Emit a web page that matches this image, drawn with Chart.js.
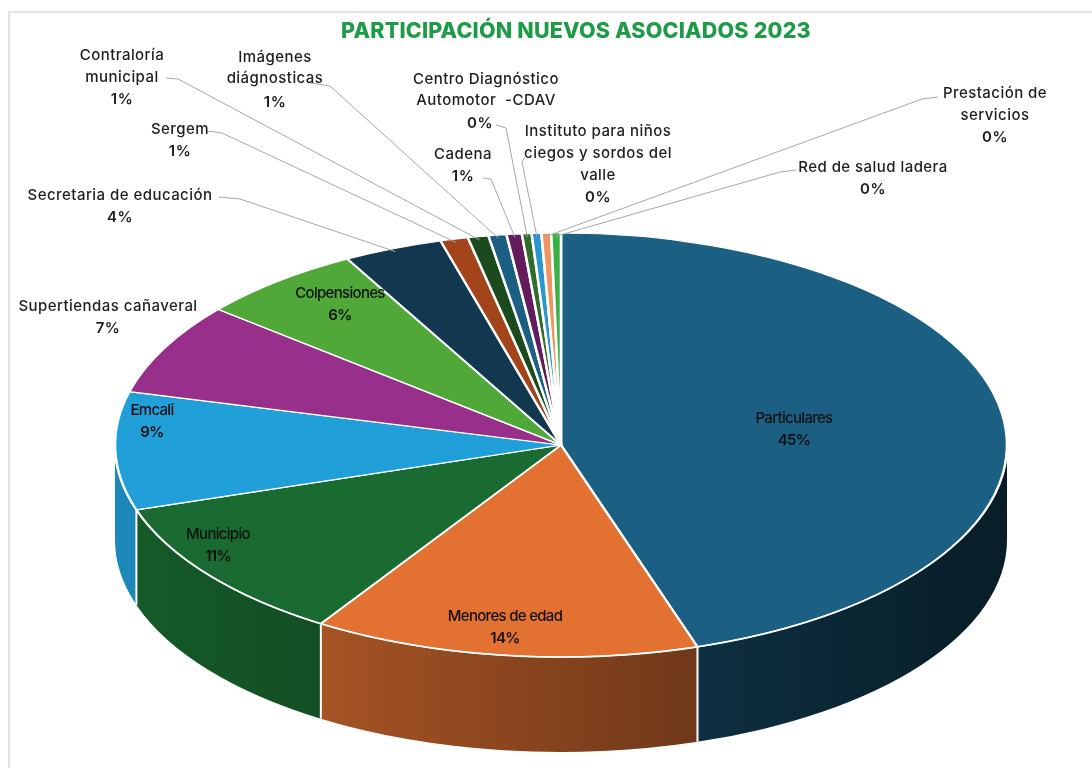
<!DOCTYPE html>
<html>
<head>
<meta charset="utf-8">
<script src="https://cdn.jsdelivr.net/npm/chart.js@4/dist/chart.umd.min.js"></script>
<style>
  html, body { margin: 0; padding: 0; background: #fff; overflow: hidden; }
  #frame { position: absolute; left: 8px; top: 11px; width: 1100px; height: 780px;
           border-left: 2px solid #e2e2e2; border-top: 2px solid #e2e2e2; }
  canvas { position: absolute; left: 0; top: 0; }
</style>
</head>
<body>
<div id="frame"></div>
<canvas id="pie" width="1092" height="768"></canvas>
<script>
// data (percent of new members)
const categories = [
  'Particulares', 'Menores de edad', 'Municipio', 'Emcali', 'Supertiendas cañaveral',
  'Colpensiones', 'Secretaria de educación', 'Sergem', 'Contraloría municipal',
  'Imágenes diágnosticas', 'Cadena', 'Centro Diagnóstico Automotor -CDAV',
  'Instituto para niños ciegos y sordos del valle', 'Prestación de servicios',
  'Red de salud ladera'
];
const shares = [45.05, 14.0, 11.0, 9.0, 7.0, 6.0, 3.6, 1.0, 0.75, 0.65, 0.55, 0.35, 0.35, 0.35, 0.35];

const sliceColors = [
  '#1b5f82', '#e37232', '#196b31', '#219fd9', '#972f8b', '#4fa838', '#12384f',
  '#a3441b', '#1b4a1f', '#1b5f82', '#621c5c', '#2f6d2a', '#2a95cf', '#ee9562', '#3bb044'
];

// projected ellipse of the pie top and its depth
const CX = 561, CY = 445, RX = 446, RY = 212, DEPTH = 95;

// label layout: text lines, center x, first line y, line height, optional leader
const labelLayout = [
  { lines: ['Particulares'], x: 794, y: 418, lh: 22, inside: true },
  { lines: ['Menores de edad'], x: 505, y: 616, lh: 22, inside: true },
  { lines: ['Municipio'], x: 218, y: 534, lh: 22, inside: true },
  { lines: ['Emcali'], x: 152, y: 410, lh: 22, inside: true },
  { lines: ['Supertiendas cañaveral'], x: 108, y: 306, lh: 22 },
  { lines: ['Colpensiones'], x: 340, y: 293, lh: 22, inside: true },
  { lines: ['Secretaria de educación'], x: 120, y: 195, lh: 22, lead: [[219, 197], [240, 199]] },
  { lines: ['Sergem'], x: 180, y: 129, lh: 22, lead: [[207, 131], [222, 133]] },
  { lines: ['Contraloría', 'municipal'], x: 122, y: 55, lh: 22, lead: [[166, 78], [178, 79]] },
  { lines: ['Imágenes', 'diágnosticas'], x: 275, y: 57, lh: 21, pctGap: 3, lead: [[310, 83], [330, 86]] },
  { lines: ['Cadena'], x: 463, y: 154, lh: 22, lead: [[483, 178], [491, 179]] },
  { lines: ['Centro Diagnóstico', 'Automotor  -CDAV'], x: 486, y: 79, lh: 21, pctGap: 2, pctX: 480, lead: [[496, 125], [506, 128]] },
  { lines: ['Instituto para niños', 'ciegos y sordos del', 'valle'], x: 598, y: 131, lh: 22, lead: [[525, 157], [522, 162]] },
  { lines: ['Prestación de', 'servicios'], x: 995, y: 93, lh: 22, lead: [[938, 97], [922, 99]] },
  { lines: ['Red de salud ladera'], x: 873, y: 167, lh: 22, lead: [[796, 170], [780, 172]] }
];

function shade(hex, f) {
  const n = parseInt(hex.slice(1), 16);
  const r = Math.round(((n >> 16) & 255) * f);
  const g = Math.round(((n >> 8) & 255) * f);
  const b = Math.round((n & 255) * f);
  return `rgb(${r},${g},${b})`;
}

function rimPoint(angle, k = 1) {
  return [CX + RX * k * Math.cos(angle), CY + RY * k * Math.sin(angle)];
}

function drawSides(ctx, arcs) {
  arcs.forEach((arc, i) => {
    const lo = Math.max(arc.startAngle, 0);
    const hi = Math.min(arc.endAngle, Math.PI);
    if (hi <= lo) return;
    const grad = ctx.createLinearGradient(CX - RX, 0, CX + RX, 0);
    grad.addColorStop(0, shade(sliceColors[i], 0.86));
    grad.addColorStop(1, shade(sliceColors[i], 0.3));
    ctx.beginPath();
    ctx.ellipse(CX, CY, RX, RY, 0, lo, hi);
    ctx.ellipse(CX, CY + DEPTH, RX, RY, 0, hi, lo, true);
    ctx.closePath();
    ctx.fillStyle = grad;
    ctx.fill();
  });
  // white seams where slices meet on the wall
  ctx.strokeStyle = '#ffffff';
  ctx.lineWidth = 2;
  arcs.forEach((arc) => {
    const a = arc.endAngle;
    if (a > 0.02 && a < Math.PI - 0.02) {
      const [x, y] = rimPoint(a);
      ctx.beginPath();
      ctx.moveTo(x, y);
      ctx.lineTo(x, y + DEPTH);
      ctx.stroke();
    }
  });
}

function drawLabels(ctx, arcs, total) {
  ctx.textAlign = 'center';
  ctx.textBaseline = 'middle';
  labelLayout.forEach((spot, i) => {
    const arc = arcs[i];
    const pct = Math.round(shares[i] / total * 100) + '%';
    if (spot.lead) {
      const mid = (arc.startAngle + arc.endAngle) / 2;
      const end = rimPoint(mid, 0.985);
      ctx.strokeStyle = '#a6a6a6';
      ctx.lineWidth = 1;
      ctx.beginPath();
      ctx.moveTo(spot.lead[0][0], spot.lead[0][1]);
      ctx.lineTo(spot.lead[1][0], spot.lead[1][1]);
      ctx.lineTo(end[0], end[1]);
      ctx.stroke();
    }
    if (spot.inside) {
      ctx.font = '500 15px Inter, "Noto Sans", sans-serif';
      ctx.letterSpacing = '-0.7px';
      ctx.fillStyle = '#111111';
    } else {
      ctx.font = '500 15px Inter, "Noto Sans", sans-serif';
      ctx.letterSpacing = '0.45px';
      ctx.fillStyle = '#1e1e1e';
    }
    spot.lines.forEach((t, k) => ctx.fillText(t, spot.x, spot.y + k * spot.lh));
    const py = spot.y + spot.lines.length * spot.lh + (spot.pctGap || 0);
    ctx.font = '600 15px Inter, "Noto Sans", sans-serif';
    ctx.fillText(pct, spot.pctX || spot.x, py);
  });
  ctx.letterSpacing = '0px';
}

const pie3d = {
  id: 'pie3d',
  beforeDatasetsDraw(chart) {
    const ctx = chart.ctx;
    const arcs = chart.getDatasetMeta(0).data;
    const ref = arcs[0];
    drawSides(ctx, arcs);
    ctx.save();
    ctx.translate(CX, CY);
    ctx.scale(RX / ref.outerRadius, RY / ref.outerRadius);
    ctx.translate(-ref.x, -ref.y);
  },
  afterDatasetsDraw(chart) {
    const ctx = chart.ctx;
    ctx.restore();
    const arcs = chart.getDatasetMeta(0).data;
    // white rim between top face and the front wall
    ctx.strokeStyle = '#ffffff';
    ctx.lineWidth = 1.6;
    ctx.beginPath();
    ctx.ellipse(CX, CY, RX, RY, 0, 0, Math.PI);
    ctx.stroke();
    const total = shares.reduce((s, v) => s + v, 0);
    drawLabels(ctx, arcs, total);
    // title
    ctx.font = '800 21.5px Inter, "Noto Sans", sans-serif';
    ctx.letterSpacing = '0.2px';
    ctx.fillStyle = '#1e9b47';
    ctx.textAlign = 'center';
    ctx.textBaseline = 'middle';
    ctx.fillText('PARTICIPACIÓN NUEVOS ASOCIADOS 2023', 576, 32);
    ctx.letterSpacing = '0px';
  }
};

new Chart(document.getElementById('pie'), {
  type: 'pie',
  data: {
    labels: categories,
    datasets: [{
      data: shares,
      backgroundColor: sliceColors,
      borderColor: '#ffffff',
      borderWidth: 2.2,
      clip: false
    }]
  },
  options: {
    responsive: false,
    animation: false,
    events: [],
    plugins: {
      legend: { display: false },
      tooltip: { enabled: false }
    }
  },
  plugins: [pie3d]
});
</script>
</body>
</html>
